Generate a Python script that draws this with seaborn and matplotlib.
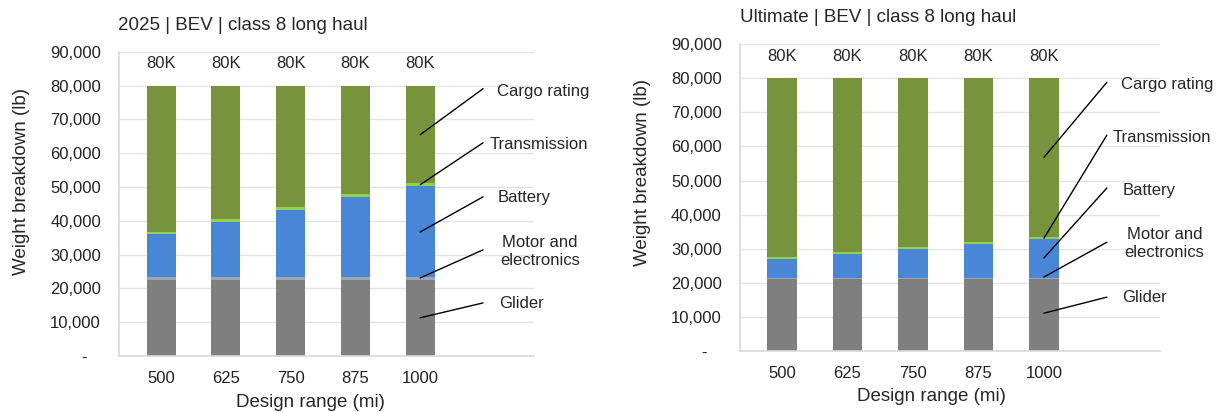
import numpy as np
import pandas as pd
import seaborn as sns
import matplotlib.pyplot as plt

ranges = ["500", "625", "750", "875", "1000"]
parts = ["Glider", "Motor and\nelectronics", "Battery", "Transmission", "Cargo rating"]
colors = ["#7f7f7f", "#9ea6b6", "#4a86d6", "#92d050", "#77933c"]

# 2025 | BEV | class 8 long haul
glider_25 = [22600, 22600, 22600, 22600, 22600]
motor_25 = [700, 700, 700, 700, 700]
battery_25 = [12700, 16500, 20000, 23800, 27100]
trans_25 = [700, 700, 700, 700, 700]
cargo_25 = [43300, 39500, 36000, 32200, 28900]

# Ultimate | BEV | class 8 long haul
glider_ult = [21000, 21000, 21000, 21000, 21000]
motor_ult = [300, 300, 300, 300, 300]
battery_ult = [5700, 7100, 8600, 10000, 11500]
trans_ult = [600, 600, 600, 600, 600]
cargo_ult = [52400, 51000, 49500, 48100, 46600]

yticks = [0, 10000, 20000, 30000, 40000, 50000, 60000, 70000, 80000, 90000]

# callout lines, bottom segment first:
# (start y on last bar, end x, end y, text x, text y, align)
notes_25 = [
    (11300, 4.97, 15700, 5.22, 15400, "left"),
    (23100, 4.97, 31400, 5.85, 31000, "center"),
    (36700, 4.97, 47100, 5.20, 46800, "left"),
    (50700, 4.97, 63100, 5.07, 62500, "left"),
    (65500, 4.97, 79100, 5.19, 78200, "left"),
]
notes_ult = [
    (11100, 4.96, 15800, 5.20, 15800, "left"),
    (21700, 4.96, 31900, 5.84, 31600, "center"),
    (27300, 4.96, 47800, 5.20, 47200, "left"),
    (33100, 4.96, 63300, 5.05, 62700, "left"),
    (56800, 4.96, 78800, 5.18, 78200, "left"),
]

sns.set_theme(style="white")
plt.rcParams["font.family"] = ["Liberation Sans", "DejaVu Sans"]

fig = plt.figure(figsize=(12.21, 4.12), dpi=100)
ax1 = fig.add_axes([0.0975, 0.136, 0.340, 0.738])
ax2 = fig.add_axes([0.606, 0.148, 0.344, 0.745])


def draw_panel(ax, series, notes, xlim):
    df = pd.DataFrame({"range": ranges})
    bottom = np.zeros(len(ranges))
    for name, vals, col in zip(parts, series, colors):
        df[name] = vals
        sns.barplot(data=df, x="range", y=name, color=col, width=0.45,
                    bottom=bottom, linewidth=0, saturation=1, ax=ax)
        bottom = bottom + np.array(vals)
    for i, tot in enumerate(bottom):
        ax.text(i, 86500, f"{tot / 1000:.0f}K", ha="center", va="center", fontsize=12)
    for (y0, x1, y1, tx, ty, ha), label in zip(notes, parts):
        ax.plot([4, x1], [y0, y1], color="black", lw=1.0, clip_on=False)
        ax.text(tx, ty, label, ha=ha, va="center", fontsize=12,
                linespacing=1.25, clip_on=False)
    ax.set_xlim(*xlim)
    ax.set_ylim(0, 90000)
    ax.set_yticks(yticks)
    ax.set_yticklabels(["-   "] + [f"{v:,}" for v in yticks[1:]])
    ax.yaxis.grid(True, color="#e4e4e4", lw=1)
    ax.set_axisbelow(True)
    for s in ["top", "right"]:
        ax.spines[s].set_visible(False)
    for s in ["left", "bottom"]:
        ax.spines[s].set_color("#d9d9d9")
        ax.spines[s].set_linewidth(1.2)
    ax.tick_params(axis="both", length=0, labelsize=12, colors="#222222")
    ax.tick_params(axis="y", pad=13)
    ax.tick_params(axis="x", pad=11)
    ax.set_xlabel("Design range (mi)", fontsize=13.5)
    ax.set_ylabel("Weight breakdown (lb)", fontsize=13.5)


draw_panel(ax1, [glider_25, motor_25, battery_25, trans_25, cargo_25],
           notes_25, (-0.65, 5.76))
draw_panel(ax2, [glider_ult, motor_ult, battery_ult, trans_ult, cargo_ult],
           notes_ult, (-0.64, 5.77))

ax1.xaxis.set_label_coords(0.46, -0.125)
ax2.xaxis.set_label_coords(0.457, -0.12)
ax1.yaxis.set_label_coords(-0.214, 0.575)
ax2.yaxis.set_label_coords(-0.212, 0.58)

fig.text(118 / 1221, 1 - 26 / 412, "2025 | BEV | class 8 long haul",
         ha="left", va="center", fontsize=13.5)
fig.text(740 / 1221, 1 - 17 / 412, "Ultimate | BEV | class 8 long haul",
         ha="left", va="center", fontsize=13.5)

fig.savefig("out.png", dpi=100)
